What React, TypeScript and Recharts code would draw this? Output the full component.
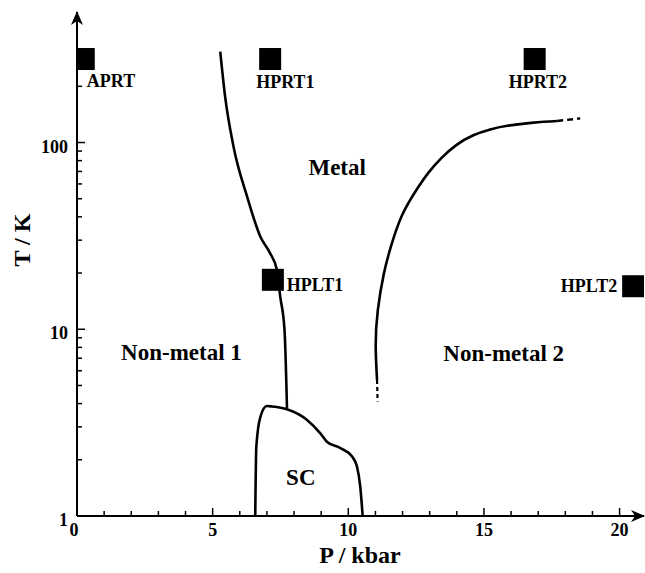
import {
  ComposedChart,
  Customized,
  Line,
  Scatter,
  XAxis,
  YAxis,
} from "recharts";

const FONT = '"Liberation Serif", "Times New Roman", serif';

// Metal / Non-metal 1 boundary (P in kbar, T in K)
const boundary1P = [5.28, 5.46, 5.77, 6.27, 6.76, 7.12, 7.37, 7.49, 7.65, 7.74];
const boundary1T = [307, 176, 95, 51.3, 31.3, 25.5, 20.8, 15, 9.9, 3.79];

// Metal / Non-metal 2 boundary, solid part
const boundary2P = [11.06, 11.01, 11.09, 11.31, 11.59, 11.99, 12.51, 12.95, 13.43, 13.98, 14.61, 15.23, 15.86, 16.82, 17.7];
const boundary2T = [5.35, 8.24, 12.7, 19.8, 28.3, 41, 55.7, 68.8, 82.5, 96.9, 109.3, 117.5, 122.9, 127.8, 130.5];

// dashed continuations of boundary 2
const boundary2LowP = [11.06, 11.08];
const boundary2LowT = [5.35, 4.1];
const boundary2HighP = [17.7, 18.55];
const boundary2HighT = [130.5, 134.6];

// superconducting dome
const scP = [6.57, 6.61, 6.76, 7.0, 7.19, 7.74, 8.48, 8.97, 9.21, 9.71, 10.14, 10.32, 10.44, 10.53];
const scT = [1, 2.35, 3.4, 3.88, 3.86, 3.73, 3.27, 2.77, 2.5, 2.31, 2.08, 1.84, 1.44, 1];

// measurement points
const sampleNames = ["APRT", "HPRT1", "HPLT1", "HPRT2", "HPLT2"];
const sampleP = [0.25, 7.12, 7.22, 16.87, 20.5];
const sampleT = [280, 280, 18.4, 280, 17];

// region names
const regionNames = ["Metal", "Non-metal 1", "Non-metal 2", "SC"];
const regionP = [9.59, 3.85, 15.73, 8.25];
const regionT = [74, 7.6, 7.47, 1.62];

const xTicks = Array.from({ length: 21 }, (_, i) => i);
const yTicks = [1, 2, 3, 4, 5, 6, 7, 8, 9, 10, 20, 30, 40, 50, 60, 70, 80, 90, 100, 200, 300];

const toPoints = (p: number[], t: number[]) => p.map((v, i) => ({ p: v, t: t[i] }));

const boundary1 = toPoints(boundary1P, boundary1T);
const boundary2 = toPoints(boundary2P, boundary2T);
const boundary2Low = toPoints(boundary2LowP, boundary2LowT);
const boundary2High = toPoints(boundary2HighP, boundary2HighT);
const scDome = toPoints(scP, scT);
const samples = sampleNames.map((name, i) => ({ name, p: sampleP[i], t: sampleT[i] }));
const regions = regionNames.map((name, i) => ({ name, p: regionP[i], t: regionT[i] }));

// where each sample name sits relative to its square
const labelPlacement: Record<string, { dx: number; dy: number; anchor: string }> = {
  APRT: { dx: 3, dy: 28, anchor: "start" },
  HPRT1: { dx: -14, dy: 29, anchor: "start" },
  HPRT2: { dx: -26, dy: 29, anchor: "start" },
  HPLT1: { dx: 14, dy: 11, anchor: "start" },
  HPLT2: { dx: -16, dy: 6, anchor: "end" },
};

const textStyle = { fontFamily: FONT, fontWeight: "bold" as const, fill: "#000", stroke: "none" };

const YTick = (props: any) => {
  const { x, y, payload } = props;
  const v = payload.value;
  const major = v === 1 || v === 10 || v === 100;
  return (
    <g>
      <line x1={x} y1={y} x2={x + (major ? 8 : 5)} y2={y} stroke="#000" strokeWidth={1.5} />
      {major && (
        <text x={x - 9} y={y + 10} textAnchor="end" fontSize={18} {...textStyle}>
          {v}
        </text>
      )}
    </g>
  );
};

const XTick = (props: any) => {
  const { x, y, payload } = props;
  const v = payload.value;
  const major = v % 5 === 0;
  return (
    <g>
      {v > 0 && <line x1={x} y1={y} x2={x} y2={y - (major ? 8 : 5)} stroke="#000" strokeWidth={1.5} />}
      {major && (
        <text x={x - (v === 0 ? 3 : 0)} y={y + 20} textAnchor="middle" fontSize={18} {...textStyle}>
          {v}
        </text>
      )}
    </g>
  );
};

const SampleMark = (props: any) => {
  const { cx, cy, payload } = props;
  const place = labelPlacement[payload.name];
  return (
    <g>
      <rect x={cx - 11} y={cy - 11} width={22} height={22} fill="#000" />
      <text x={cx + place.dx} y={cy + place.dy} textAnchor={place.anchor as any} fontSize={18} {...textStyle}>
        {payload.name}
      </text>
    </g>
  );
};

const RegionLabel = (props: any) => {
  const { cx, cy, payload } = props;
  return (
    <text x={cx} y={cy + 8} textAnchor="middle" fontSize={23} {...textStyle}>
      {payload.name}
    </text>
  );
};

const Extras = () => (
  <g>
    <defs>
      <marker id="axisArrow" viewBox="0 0 14 12" refX="13" refY="6" markerWidth="14" markerHeight="12" markerUnits="userSpaceOnUse" orient="auto-start-reverse">
        <path d="M0,0 L14,6 L0,12 L4,6 Z" fill="#000" />
      </marker>
    </defs>
    <text x={360} y={563} textAnchor="middle" fontSize={24} {...textStyle}>
      P / kbar
    </text>
    <text x={22} y={240} transform="rotate(-90 22 240)" textAnchor="middle" dy={8} fontSize={24} {...textStyle}>
      T / K
    </text>
  </g>
);

export default function App() {
  return (
    <div style={{ position: "absolute", left: 0, top: 0, width: 645, height: 573, background: "#fff" }}>
      <ComposedChart width={645} height={573} margin={{ top: 12, right: 1, bottom: 56, left: 76 }}>
        <Customized component={Extras} />
        <XAxis
          dataKey="p"
          type="number"
          domain={[0, 20.9]}
          allowDataOverflow
          ticks={xTicks}
          interval={0}
          height={1}
          tickSize={0}
          tickMargin={0}
          tickLine={false}
          tick={<XTick />}
          axisLine={{ stroke: "#000", strokeWidth: 2, markerEnd: "url(#axisArrow)" }}
        />
        <YAxis
          dataKey="t"
          type="number"
          scale="log"
          domain={[1, 500]}
          allowDataOverflow
          ticks={yTicks}
          interval={0}
          width={1}
          tickSize={0}
          tickMargin={0}
          tickLine={false}
          tick={<YTick />}
          axisLine={{ stroke: "#000", strokeWidth: 2, markerStart: "url(#axisArrow)" }}
        />
        <Line data={boundary1} dataKey="t" type="monotone" stroke="#000" strokeWidth={2.6} dot={false} isAnimationActive={false} />
        <Line data={boundary2} dataKey="t" type="natural" stroke="#000" strokeWidth={2.6} dot={false} isAnimationActive={false} />
        <Line data={boundary2Low} dataKey="t" type="linear" stroke="#000" strokeWidth={2.2} strokeDasharray="4 3" dot={false} isAnimationActive={false} />
        <Line data={boundary2High} dataKey="t" type="linear" stroke="#000" strokeWidth={2.4} strokeDasharray="6 4" dot={false} isAnimationActive={false} />
        <Line data={scDome} dataKey="t" type="monotone" stroke="#000" strokeWidth={2.6} dot={false} isAnimationActive={false} />
        <Scatter data={regions} dataKey="t" shape={<RegionLabel />} isAnimationActive={false} />
        <Scatter data={samples} dataKey="t" shape={<SampleMark />} isAnimationActive={false} />
      </ComposedChart>
    </div>
  );
}
